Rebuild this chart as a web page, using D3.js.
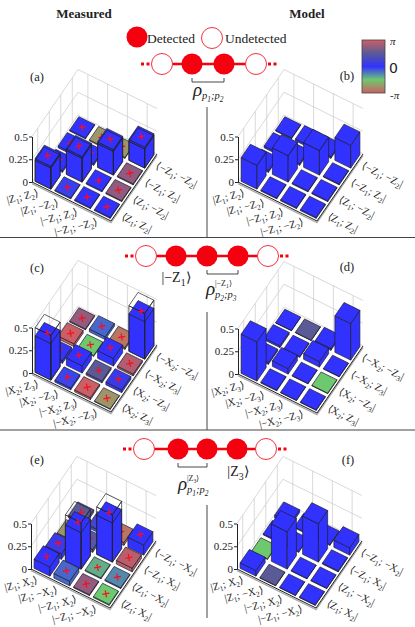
<!DOCTYPE html>
<html>
<head>
<meta charset="utf-8">
<script src="https://cdnjs.cloudflare.com/ajax/libs/d3/7.8.5/d3.min.js"></script>
<style>
html, body { margin: 0; padding: 0; background: #fff; }
svg { display: block; }
text { font-family: "Liberation Serif", serif; fill: #222; }
</style>
</head>
<body>
<svg id="fig" width="415" height="627"></svg>
<script>
var pi = Math.PI;

// tick labels
var zTicks = [0, 0.25, 0.5];

var ketsA = ["|Z_1; Z_2⟩", "|Z_1; −Z_2⟩", "|−Z_1; Z_2⟩", "|−Z_1; −Z_2⟩"];
var brasA = ["⟨Z_1; Z_2|", "⟨Z_1; −Z_2|", "⟨−Z_1; Z_2|", "⟨−Z_1; −Z_2|"];
var ketsC = ["|X_2; Z_3⟩", "|X_2; −Z_3⟩", "|−X_2; Z_3⟩", "|−X_2; −Z_3⟩"];
var brasC = ["⟨X_2; Z_3|", "⟨X_2; −Z_3|", "⟨−X_2; Z_3|", "⟨−X_2; −Z_3|"];
var ketsE = ["|Z_1; X_2⟩", "|Z_1; −X_2⟩", "|−Z_1; X_2⟩", "|−Z_1; −X_2⟩"];
var brasE = ["⟨Z_1; X_2|", "⟨Z_1; −X_2|", "⟨−Z_1; X_2|", "⟨−Z_1; −X_2|"];

// bar heights, [ket][bra]
var heightsA = [[0.25, 0.02, 0.02, 0.01], [0.01, 0.28, 0.02, 0.01], [0.01, 0.01, 0.28, 0.01], [0.01, 0.01, 0.01, 0.23]];
var heightsB = [[0.26, 0.02, 0.02, 0.01], [0.01, 0.29, 0.02, 0.02], [0.01, 0.01, 0.27, 0.02], [0.01, 0.01, 0.01, 0.25]];
var heightsC = [[0.40, 0.03, 0.03, 0.01], [0.02, 0.08, 0.01, 0.03], [0.02, 0.02, 0.085, 0.02], [0.005, 0.03, 0.02, 0.41]];
var heightsD = [[0.43, 0.02, 0.02, 0.005], [0.01, 0.06, 0.01, 0.005], [0.005, 0.005, 0.06, 0.02], [0.005, 0.005, 0.005, 0.40]];
var heightsE = [[0.10, 0.06, 0.02, 0.03], [0.05, 0.40, 0.03, 0.03], [0.01, 0.01, 0.43, 0.03], [0.01, 0.01, 0.04, 0.11]];
var heightsF = [[0.06, 0.005, 0.01, 0.03], [0.005, 0.41, 0.01, 0.01], [0.005, 0.005, 0.42, 0.01], [0.005, 0.005, 0.01, 0.08]];

// bar phases, radians
var phasesA = [[0, 0, 0, 0], [-0.15, 0, 0, -2.3], [0, 0, 0, -2.3], [0, 2.3, 2.3, 0]];
var phasesB = [[0, 0, 0, 0], [0, 0, 0, 0], [0, 0, 0, 0], [0, 0, 0, 0]];
var phasesC = [[0, 0.1, 3.1, 2.35], [-0.2, 0, -1.57, -0.55], [3.1, 1.57, 0, -2.8], [-2.35, 0.3, 2.75, 0]];
var phasesD = [[0, 0, 0, 0], [0, 0, 0, 1.57], [0, 0, 0, 0], [0, -1.57, 0, 0]];
var phasesE = [[0, 0.3, -2.35, 1.57], [-0.55, 0, 1.4, 0.8], [2.35, -1.3, 0, -2.8], [-1.57, -0.9, 2.9, 0]];
var phasesF = [[0, -1.57, 0, 0], [1.57, 0, 0, 0], [0, 0, 0, 0], [0, 0, 0, 0]];

// outline of the expected bars, measured panels only
var wiresA = [[0.23, 0, 0, 0], [0, 0.26, 0, 0], [0, 0, 0.26, 0], [0, 0, 0, 0.21]];
var wiresC = [[0.49, 0, 0, 0], [0, 0, 0, 0], [0, 0, 0, 0], [0, 0, 0, 0.50]];
var wiresE = [[0, 0, 0, 0], [0, 0.51, 0, 0], [0, 0, 0.52, 0], [0, 0, 0, 0]];

var phaseStops = [-pi, -pi / 2, 0, pi / 2, pi];
var phaseColors = ["#cd5f64", "#6ec86e", "#3232ff", "#5a5a96", "#cd5f64"];

var color = d3.scaleLinear().domain(phaseStops).range(phaseColors);

var svg = d3.select("#fig");

var idx = [0, 1, 2, 3];
var cell = d3.scaleBand().domain(idx).range([0, 1]).paddingInner(0.2).paddingOuter(0.1);
var zs = d3.scaleLinear().domain([0, 0.5]).range([0, -45.5]);

// floor vectors of the oblique view
var ux = 79, uy = 39, vx = 46, vy = -67;

function proj(u, v, h) {
  return [u * ux + v * vx, u * uy + v * vy + zs(h)];
}

function poly(pts) {
  return "M" + pts.map(function(p) { return p[0] + "," + p[1]; }).join("L") + "Z";
}

// "Z_1" puts the character after the underscore in a subscript
function rich(t, str, size) {
  var parts = str.split(/_(.)/), drop = size * 0.25;
  parts.forEach(function(s, k) {
    if (!s) return;
    var ts = t.append("tspan").text(s);
    if (k % 2) ts.attr("font-size", size * 0.7).attr("dy", drop);
    else if (k > 1) ts.attr("dy", -drop);
  });
}

function walls(g) {
  var grid = g.append("g").attr("stroke", "#cfcfcf").attr("stroke-width", 0.8).attr("fill", "none");
  [0, 0.25, 0.5].forEach(function(h) {
    grid.append("path").attr("d", "M" + proj(0, 0, h) + "L" + proj(0, 1, h) + "L" + proj(1, 1, h));
  });
  idx.forEach(function(i) {
    var c = cell(i) + cell.bandwidth() / 2;
    grid.append("path").attr("d", "M" + proj(0, c, 0) + "L" + proj(0, c, 0.5));
    grid.append("path").attr("d", "M" + proj(c, 1, 0) + "L" + proj(c, 1, 0.5));
  });
}

function floor(g) {
  g.append("path")
    .attr("d", "M" + proj(0, 0, 0) + "L" + proj(1, 0, 0) + "L" + proj(1, 1, 0))
    .attr("transform", "translate(0,1.6)")
    .attr("fill", "none").attr("stroke", "#aaa").attr("stroke-width", 1.4);
  g.append("path")
    .attr("d", "M" + proj(0, 0, 0) + "L" + proj(1, 0, 0) + "L" + proj(1, 1, 0))
    .attr("fill", "none").attr("stroke", "#222").attr("stroke-width", 1);
}

function boxFaces(d, h) {
  var i0 = cell(d.i), i1 = i0 + cell.bandwidth(),
      j0 = cell(d.j), j1 = j0 + cell.bandwidth();
  return [
    poly([proj(i0, j0, 0), proj(i1, j0, 0), proj(i1, j0, h), proj(i0, j0, h)]),
    poly([proj(i1, j0, 0), proj(i1, j1, 0), proj(i1, j1, h), proj(i1, j0, h)]),
    poly([proj(i0, j0, h), proj(i1, j0, h), proj(i1, j1, h), proj(i0, j1, h)])
  ];
}

function panel(p) {
  var g = svg.append("g").attr("transform", "translate(" + p.x + "," + p.y + ")");

  walls(g);
  floor(g);

  // back to front
  var cells = [];
  idx.forEach(function(i) {
    idx.forEach(function(j) {
      cells.push({i: i, j: j, h: p.heights[i][j], ph: p.phases[i][j], w: p.wires ? p.wires[i][j] : 0});
    });
  });
  cells.sort(function(a, b) { return (a.i - a.j) - (b.i - b.j) || a.i - b.i; });

  var bars = g.selectAll("g.bar").data(cells).enter().append("g").attr("class", "bar");

  bars.each(function(d) {
    var b = d3.select(this);
    b.selectAll("path.face").data(boxFaces(d, d.h)).enter().append("path")
      .attr("class", "face")
      .attr("d", function(s) { return s; })
      .attr("fill", color(d.ph))
      .attr("stroke", "#1c1c2c")
      .attr("stroke-width", 0.7)
      .attr("stroke-linejoin", "round");

    if (d.w > 0) {
      boxFaces(d, d.w).forEach(function(s) {
        b.append("path").attr("d", s).attr("fill", "none").attr("stroke", "#222").attr("stroke-width", 0.7);
      });
    }

    if (p.marks) {
      var c = cell.bandwidth() / 2,
          top = proj(cell(d.i) + c, cell(d.j) + c, d.h);
      b.append("path")
        .attr("d", "M-3.6,0H3.6M0,-3.6V3.6")
        .attr("transform", "translate(" + top[0] + "," + top[1] + ")rotate(-10)")
        .attr("fill", "none").attr("stroke", "#ff0a1e").attr("stroke-width", 1.2);
    }
  });

  // height axis
  var axis = d3.axisLeft(zs).tickValues(zTicks).tickSize(3).tickSizeOuter(0)
    .tickFormat(function(d) { return d; });
  var ax = g.append("g").call(axis);
  ax.select(".domain").attr("stroke", "#222");
  ax.selectAll(".tick line").attr("stroke", "#222");
  ax.selectAll(".tick text")
    .attr("font-size", 11)
    .attr("x", -4)
    .style("font-family", '"Liberation Serif", serif')
    .attr("fill", "#222");

  // ket labels run along the front left edge, bra labels along the front right edge
  idx.forEach(function(i) {
    var c = cell(i) + cell.bandwidth() / 2, a = proj(c, 0, 0), b = proj(1, c, 0);
    var kt = g.append("text")
      .attr("text-anchor", "end")
      .attr("font-size", 10.6)
      .attr("transform", "translate(" + (a[0] - 3) + "," + (a[1] + 9) + ")rotate(-14)");
    rich(kt, p.kets[i], 10.6);
    var bt = g.append("text")
      .attr("font-size", 10.6)
      .attr("transform", "translate(" + (b[0] + 4) + "," + (b[1] + 6) + ")rotate(26)");
    rich(bt, p.bras[i], 10.6);
  });

  svg.append("text")
    .attr("x", p.lx).attr("y", p.ly)
    .attr("text-anchor", "middle")
    .attr("font-size", 12.5)
    .text(p.name);
}

var panels = [
  {name: "(a)", x: 32, y: 182, lx: 37, ly: 81, heights: heightsA, phases: phasesA, wires: wiresA, marks: true, kets: ketsA, bras: brasA},
  {name: "(b)", x: 238, y: 182, lx: 347, ly: 80, heights: heightsB, phases: phasesB, kets: ketsA, bras: brasA},
  {name: "(c)", x: 32, y: 373, lx: 37, ly: 272, heights: heightsC, phases: phasesC, wires: wiresC, marks: true, kets: ketsC, bras: brasC},
  {name: "(d)", x: 238, y: 374, lx: 347, ly: 271, heights: heightsD, phases: phasesD, kets: ketsC, bras: brasC},
  {name: "(e)", x: 31, y: 569, lx: 37, ly: 464, heights: heightsE, phases: phasesE, wires: wiresE, marks: true, kets: ketsE, bras: brasE},
  {name: "(f)", x: 237, y: 569, lx: 348, ly: 464, heights: heightsF, phases: phasesF, kets: ketsE, bras: brasE}
];
panels.forEach(panel);

// titles
svg.append("text").attr("x", 84).attr("y", 18).attr("text-anchor", "middle")
  .attr("font-size", 13).attr("font-weight", "bold").text("Measured");
svg.append("text").attr("x", 307).attr("y", 18).attr("text-anchor", "middle")
  .attr("font-size", 13).attr("font-weight", "bold").text("Model");

// legend
svg.append("circle").attr("cx", 137).attr("cy", 37).attr("r", 10.5).attr("fill", "#f5000f");
svg.append("text").attr("x", 147).attr("y", 43).attr("font-size", 13.5).text("Detected");
svg.append("circle").attr("cx", 212).attr("cy", 38).attr("r", 10.5)
  .attr("fill", "#fff").attr("stroke", "#f5303f").attr("stroke-width", 1);
svg.append("text").attr("x", 225).attr("y", 43).attr("font-size", 13.5).text("Undetected");

// colour bar
var defs = svg.append("defs");
var grad = defs.append("linearGradient").attr("id", "phase")
  .attr("x1", 0).attr("y1", 1).attr("x2", 0).attr("y2", 0);
grad.selectAll("stop").data(phaseStops).enter().append("stop")
  .attr("offset", function(d) { return (d + pi) / (2 * pi); })
  .attr("stop-color", function(d, k) { return phaseColors[k]; });
var barScale = d3.scaleLinear().domain([-pi, pi]).range([93, 40]);
svg.append("rect").attr("x", 362).attr("y", barScale(pi)).attr("width", 23)
  .attr("height", barScale(-pi) - barScale(pi))
  .attr("fill", "url(#phase)").attr("stroke", "#444").attr("stroke-width", 0.8);
svg.append("text").attr("x", 390).attr("y", 45).attr("font-size", 11).attr("font-style", "italic").text("π");
svg.append("text").attr("x", 389).attr("y", 73).attr("font-size", 14)
  .style("font-family", '"DejaVu Sans", sans-serif').attr("fill", "#333").text("0");
svg.append("text").attr("x", 390).attr("y", 99).attr("font-size", 11).attr("font-style", "italic").text("-π");

// detector chains
function chain(c) {
  var g = svg.append("g"), red = "#f5000f";
  var xs = c.xs, last = xs.length - 1;
  g.append("path").attr("d", "M" + xs[0] + "," + c.y + "H" + xs[last])
    .attr("stroke", red).attr("stroke-width", 2.6).attr("fill", "none");
  g.append("path").attr("d", "M" + (xs[0] - 21) + "," + c.y + "h9")
    .attr("stroke", red).attr("stroke-width", 3).attr("stroke-dasharray", "3,2.5").attr("fill", "none");
  g.append("path").attr("d", "M" + (xs[last] + 12) + "," + c.y + "h9")
    .attr("stroke", red).attr("stroke-width", 3).attr("stroke-dasharray", "3,2.5").attr("fill", "none");
  xs.forEach(function(x, k) {
    var open = k === 0 || k === last;
    g.append("circle").attr("cx", x).attr("cy", c.y).attr("r", 10.5)
      .attr("fill", open ? "#fff" : red)
      .attr("stroke", open ? "#f5303f" : "none").attr("stroke-width", 1);
  });
  g.append("path")
    .attr("d", "M" + c.bracket[0] + "," + (c.y + 14) + "v4H" + c.bracket[1] + "v-4")
    .attr("fill", "none").attr("stroke", "#333").attr("stroke-width", 0.9);

  g.append("text").attr("x", c.rho[0]).attr("y", c.rho[1])
    .attr("font-size", 19).attr("font-style", "italic").text("ρ");
  var sub = g.append("text").attr("x", c.rho[0] + 9).attr("y", c.rho[1] + 3)
    .attr("font-size", 10.5).attr("font-style", "italic");
  rich(sub, c.sub, 10.5);
  if (c.sup) {
    var sup = g.append("text").attr("x", c.rho[0] + 9).attr("y", c.rho[1] - 9).attr("font-size", 8);
    rich(sup, c.sup, 8);
  }
  if (c.tag) {
    var tag = g.append("text").attr("x", c.tag[0]).attr("y", c.tag[1])
      .attr("text-anchor", "middle").attr("font-size", 14);
    rich(tag, c.tagText, 14);
  }
}

chain({y: 64, xs: [162, 192, 224, 256], bracket: [192, 224], rho: [193, 96], sub: "p_1;p_2"});
chain({y: 256, xs: [146, 176, 207, 238, 268], bracket: [207, 238], rho: [206, 295], sub: "p_2;p_3", sup: "|−Z_1⟩", tag: [176, 282], tagText: "|−Z_1⟩"});
chain({y: 449, xs: [144, 178, 207, 237, 266], bracket: [178, 207], rho: [178, 490], sub: "p_1;p_2", sup: "|Z_3⟩", tag: [238, 476], tagText: "|Z_3⟩"});

// separators
var rules = svg.append("g").attr("stroke", "#444").attr("fill", "none");
rules.append("path").attr("d", "M0,237.5H415M0,430H415").attr("stroke-width", 1.2);
rules.append("path").attr("d", "M207,107V237M207,312V430M207,505V618").attr("stroke-width", 1);
</script>
</body>
</html>
